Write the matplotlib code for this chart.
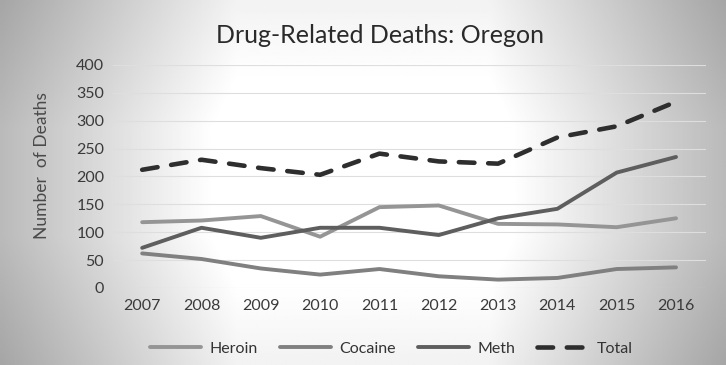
import numpy as np
import matplotlib.pyplot as plt

years = ["2007", "2008", "2009", "2010", "2011", "2012", "2013", "2014", "2015", "2016"]
heroin = [118, 121, 129, 92, 145, 148, 115, 114, 109, 125]
cocaine = [62, 52, 35, 24, 34, 21, 15, 18, 34, 37]
meth = [72, 108, 90, 108, 108, 95, 125, 142, 207, 235]
total = [212, 230, 215, 203, 241, 227, 223, 270, 290, 334]

plt.rcParams['font.family'] = ['Lato', 'DejaVu Sans']

fig = plt.figure(figsize=(7.26, 3.65), dpi=100)

# scanned-paper look: grey vignette behind the chart
bg = fig.add_axes([0, 0, 1, 1], zorder=-10)
gx = np.linspace(-1, 1, 400)
gy = np.linspace(-1, 1, 200)
X, Y = np.meshgrid(gx, gy)
shade = 1 - 0.30 * np.clip(np.abs(X) - 0.35, 0, None) / 0.65 - 0.08 * np.clip(np.abs(Y) - 0.3, 0, None) / 0.7
shade = np.clip(shade + 0.03, 0, 1)
bg.imshow(shade, cmap='gray', vmin=0, vmax=1, aspect='auto', extent=[0, 1, 0, 1])
bg.axis('off')

ax = fig.add_axes([0.155, 0.211, 0.817, 0.611])
ax.patch.set_alpha(0)
x = np.arange(len(years))

ax.plot(x, heroin, color='#959595', lw=2.8, label='Heroin', solid_capstyle='round')
ax.plot(x, cocaine, color='#808080', lw=2.8, label='Cocaine', solid_capstyle='round')
ax.plot(x, meth, color='#5e5e5e', lw=2.8, label='Meth', solid_capstyle='round')
ax.plot(x, total, color='#2e2e2e', lw=3.3, ls=(0, (3.4, 3.0)), label='Total', dash_capstyle='round')

ax.set_xlim(-0.5, len(years) - 0.5)
ax.set_ylim(0, 400)
ax.set_yticks(range(0, 401, 50))
ax.set_xticks(x)
ax.set_xticklabels(years)
ax.tick_params(length=0, labelsize=11.5, colors='#3a3a3a', pad=8)
ax.tick_params(axis='y', pad=6)
ax.grid(axis='y', color='#dedede', lw=0.8)
for s in ax.spines.values():
    s.set_visible(False)

ax.set_ylabel('Number  of Deaths', fontsize=12.5, color='#4a4a4a', labelpad=12)
ax.yaxis.set_label_coords(-0.105, 0.55)
fig.text(0.523, 0.903, 'Drug-Related Deaths: Oregon', ha='center', va='center',
         fontsize=18, color='#2a2a2a')

fig.legend(loc='center', bbox_to_anchor=(0.539, 0.045), ncol=4, frameon=False,
           fontsize=11.5, handlelength=3.2, columnspacing=1.4, handletextpad=0.5,
           labelcolor='#333333')

fig.savefig('out.png', dpi=100)
